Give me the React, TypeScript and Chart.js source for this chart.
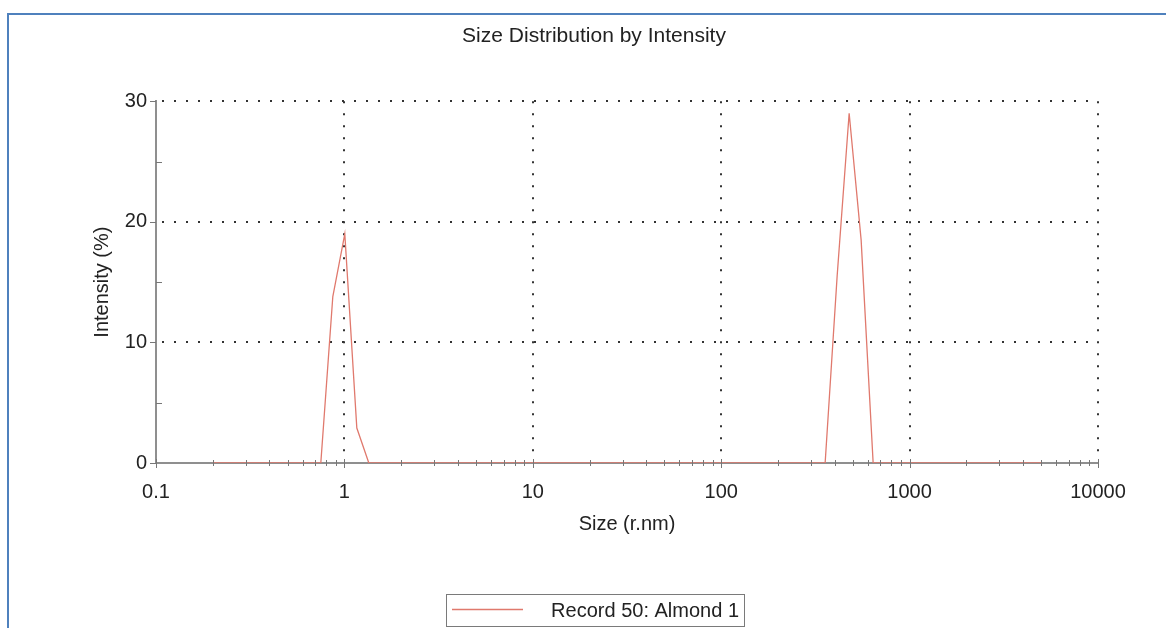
import React, { useEffect, useRef } from "react";
import { Chart, registerables } from "chart.js";

Chart.register(...registerables);

const TITLE = "Size Distribution by Intensity";
const X_TITLE = "Size (r.nm)";
const Y_TITLE = "Intensity (%)";
const SERIES_LABEL = "Record 50: Almond 1";

// Size bins (radius, nm)
const SIZES = [
  0.2, 0.2316, 0.2683, 0.3107, 0.3598, 0.4166, 0.4825, 0.5585, 0.647, 0.7495,
  0.868, 1.005, 1.164, 1.348, 1.561, 1.808, 2.094, 2.425, 2.808, 3.252,
  3.766, 4.361, 5.05, 5.85, 6.77, 7.845, 9.085, 10.52, 12.18, 14.11,
  16.34, 18.92, 21.91, 25.38, 29.39, 34.03, 39.41, 45.64, 52.85, 61.2,
  70.9, 82.1, 95.05, 110.1, 127.5, 147.7, 171.0, 198.1, 229.4, 265.6,
  307.6, 356.2, 412.5, 477.7, 553, 640.5, 742, 859, 995, 1153,
  1335, 1546, 1790, 2073, 2401, 2780, 3220, 3728, 4318, 5000,
];

// Intensity (%) per bin
const INTENSITY = [
  0, 0, 0, 0, 0, 0, 0, 0, 0, 0,
  13.8, 19.0, 2.9, 0, 0, 0, 0, 0, 0, 0,
  0, 0, 0, 0, 0, 0, 0, 0, 0, 0,
  0, 0, 0, 0, 0, 0, 0, 0, 0, 0,
  0, 0, 0, 0, 0, 0, 0, 0, 0, 0,
  0, 0, 15.5, 29.0, 18.5, 0, 0, 0, 0, 0,
  0, 0, 0, 0, 0, 0, 0, 0, 0, 0,
];

const X_LABEL_TICKS = [0.1, 1, 10, 100, 1000, 10000];
const X_GRID = [1, 10, 100, 1000, 10000];
const X_MINOR = [
  0.2, 0.3, 0.4, 0.5, 0.6, 0.7, 0.8, 0.9,
  2, 3, 4, 5, 6, 7, 8, 9,
  20, 30, 40, 50, 60, 70, 80, 90,
  200, 300, 400, 500, 600, 700, 800, 900,
  2000, 3000, 4000, 5000, 6000, 7000, 8000, 9000,
];
const Y_MAJOR = [0, 10, 20, 30];
const Y_GRID = [10, 20, 30];
const Y_MINOR = [5, 15, 25];

const FONT_FAMILY = "'Liberation Sans', Arial, Helvetica, sans-serif";
const LINE_COLOR = "#e0796d";
const TEXT_COLOR = "#222";
const AXIS_COLOR = "#8f8f8f";

const decorPlugin = {
  id: "decor",
  beforeDatasetsDraw(chart: any) {
    const { ctx, chartArea } = chart;
    const xs = chart.scales.x;
    const ys = chart.scales.y;
    ctx.save();
    ctx.strokeStyle = "#333";
    ctx.lineWidth = 2;
    ctx.setLineDash([2, 10]);
    for (const v of Y_GRID) {
      const py = Math.round(ys.getPixelForValue(v));
      ctx.beginPath();
      ctx.moveTo(chartArea.left + 6, py);
      ctx.lineTo(chartArea.right, py);
      ctx.stroke();
    }
    for (const v of X_GRID) {
      const px = Math.round(xs.getPixelForValue(v));
      ctx.beginPath();
      ctx.moveTo(px, chartArea.top);
      ctx.lineTo(px, chartArea.bottom - 4);
      ctx.stroke();
    }
    ctx.restore();
  },
  afterDatasetsDraw(chart: any) {
    const { ctx, chartArea } = chart;
    const xs = chart.scales.x;
    const ys = chart.scales.y;
    ctx.save();
    ctx.strokeStyle = "#777";
    ctx.lineWidth = 1;
    ctx.setLineDash([]);
    for (const v of Y_MAJOR) {
      const py = Math.round(ys.getPixelForValue(v)) + 0.5;
      ctx.beginPath();
      ctx.moveTo(chartArea.left - 6, py);
      ctx.lineTo(chartArea.left, py);
      ctx.stroke();
    }
    for (const v of Y_MINOR) {
      const py = Math.round(ys.getPixelForValue(v)) + 0.5;
      ctx.beginPath();
      ctx.moveTo(chartArea.left, py);
      ctx.lineTo(chartArea.left + 6, py);
      ctx.stroke();
    }
    for (const v of X_LABEL_TICKS) {
      const px = Math.round(xs.getPixelForValue(v)) + 0.5;
      ctx.beginPath();
      ctx.moveTo(px, chartArea.bottom - 4);
      ctx.lineTo(px, chartArea.bottom + 5);
      ctx.stroke();
    }
    for (const v of X_MINOR) {
      const px = Math.round(xs.getPixelForValue(v)) + 0.5;
      ctx.beginPath();
      ctx.moveTo(px, chartArea.bottom - 3);
      ctx.lineTo(px, chartArea.bottom + 3);
      ctx.stroke();
    }
    ctx.restore();
  },
  afterDraw(chart: any) {
    const { ctx } = chart;
    const ds = chart.data.datasets[0];
    ctx.save();
    ctx.strokeStyle = "#7a7a7a";
    ctx.lineWidth = 1;
    ctx.strokeRect(446.5, 594.5, 298, 32);
    ctx.strokeStyle = ds.borderColor;
    ctx.lineWidth = 1.5;
    ctx.beginPath();
    ctx.moveTo(452, 609.5);
    ctx.lineTo(523, 609.5);
    ctx.stroke();
    ctx.fillStyle = TEXT_COLOR;
    ctx.font = `20px ${FONT_FAMILY}`;
    ctx.textAlign = "right";
    ctx.textBaseline = "middle";
    ctx.fillText(ds.label, 739, 611);
    ctx.restore();
  },
};

export default function App() {
  const canvasRef = useRef<HTMLCanvasElement | null>(null);

  useEffect(() => {
    if (!canvasRef.current) return;
    Chart.defaults.font.family = FONT_FAMILY;
    const chart = new Chart(canvasRef.current, {
      type: "line",
      data: {
        datasets: [
          {
            label: SERIES_LABEL,
            data: SIZES.map((s, i) => ({ x: s, y: INTENSITY[i] })),
            borderColor: LINE_COLOR,
            borderWidth: 1.3,
            pointRadius: 0,
            tension: 0,
            fill: false,
          },
        ],
      },
      options: {
        animation: false,
        responsive: true,
        maintainAspectRatio: false,
        layout: { padding: { left: 90, right: 68, top: 0, bottom: 92 } },
        plugins: {
          legend: { display: false },
          tooltip: { enabled: false },
          title: {
            display: true,
            text: TITLE,
            color: TEXT_COLOR,
            font: { size: 21, weight: "normal", family: FONT_FAMILY },
            padding: { top: 24, bottom: 52 },
          },
        },
        scales: {
          x: {
            type: "logarithmic",
            min: 0.1,
            max: 10000,
            afterBuildTicks: (s: any) => {
              s.ticks = X_LABEL_TICKS.map((v) => ({ value: v }));
            },
            afterFit: (s: any) => {
              s.height = 73;
            },
            ticks: {
              autoSkip: false,
              maxRotation: 0,
              color: TEXT_COLOR,
              padding: 17,
              font: { size: 20, family: FONT_FAMILY },
              callback: (v: any) => String(v),
            },
            grid: { display: false, drawTicks: false },
            border: { display: true, color: AXIS_COLOR, width: 2 },
            title: {
              display: true,
              text: X_TITLE,
              color: TEXT_COLOR,
              font: { size: 20, family: FONT_FAMILY },
              padding: { top: 7, bottom: 0 },
            },
          },
          y: {
            type: "linear",
            min: 0,
            max: 30,
            afterFit: (s: any) => {
              s.width = 66;
            },
            ticks: {
              stepSize: 10,
              color: TEXT_COLOR,
              padding: 9,
              font: { size: 20, family: FONT_FAMILY },
            },
            grid: { display: false, drawTicks: false },
            border: { display: true, color: AXIS_COLOR, width: 2 },
            title: {
              display: true,
              text: Y_TITLE,
              color: TEXT_COLOR,
              font: { size: 20, family: FONT_FAMILY },
              padding: { top: 0, bottom: 0 },
            },
          },
        },
      } as any,
      plugins: [decorPlugin],
    });
    return () => chart.destroy();
  }, []);

  return (
    <div style={{ position: "absolute", left: 0, top: 0, width: 1166, height: 628, overflow: "hidden", background: "#fff" }}>
      <div
        style={{
          position: "absolute",
          left: 7,
          top: 13,
          width: 1159,
          height: 615,
          borderLeft: "2px solid #4f81bd",
          borderTop: "2px solid #4f81bd",
          boxSizing: "border-box",
        }}
      />
      <div style={{ position: "absolute", left: 0, top: 0, width: 1166, height: 628 }}>
        <canvas ref={canvasRef} />
      </div>
    </div>
  );
}
